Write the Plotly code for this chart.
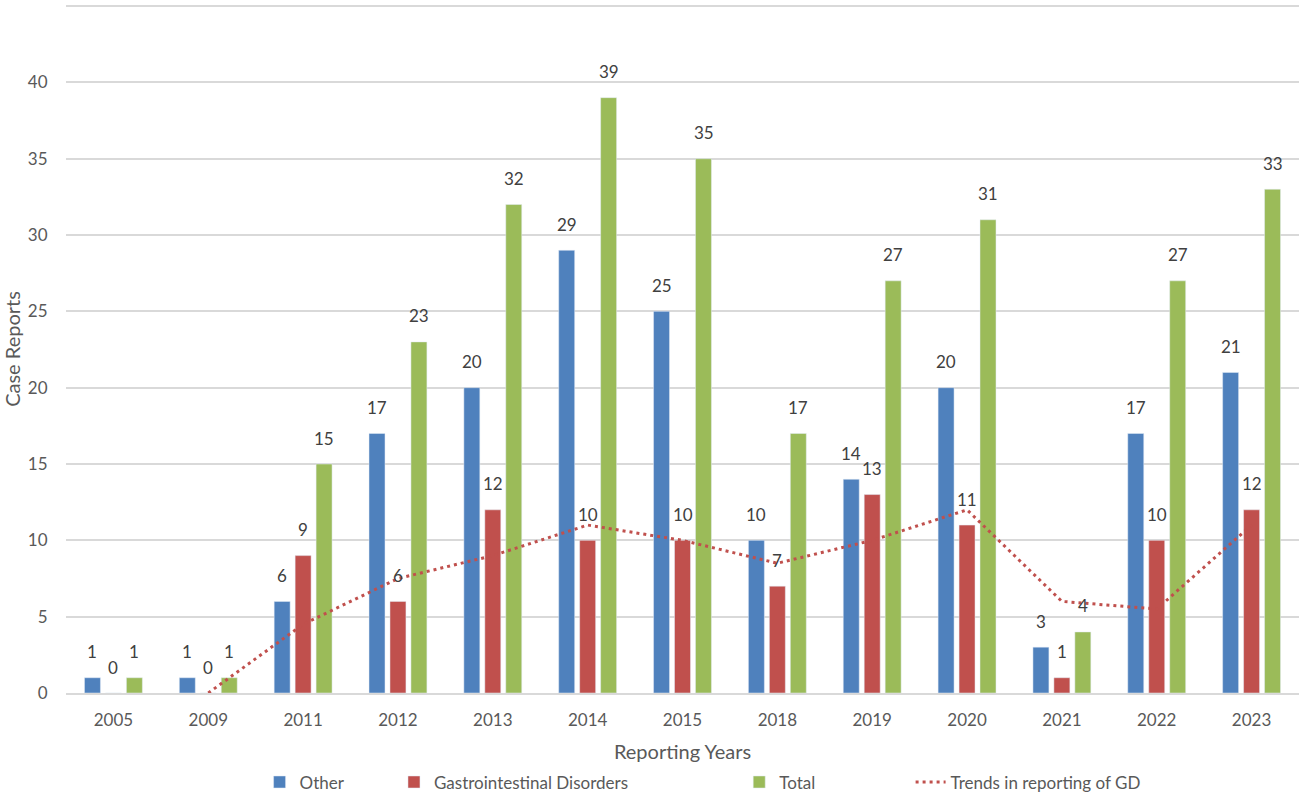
import plotly.graph_objects as go

years = ['2005', '2009', '2011', '2012', '2013', '2014', '2015',
         '2018', '2019', '2020', '2021', '2022', '2023']
other = [1, 1, 6, 17, 20, 29, 25, 10, 14, 20, 3, 17, 21]
gd = [0, 0, 9, 6, 12, 10, 10, 7, 13, 11, 1, 10, 12]
total = [1, 1, 15, 23, 32, 39, 35, 17, 27, 31, 4, 27, 33]
# moving average trend line (starts at 2009)
trend = [None, 0, 4.5, 7.5, 9, 11, 10, 8.5, 10, 12, 6, 5.5, 11]

txt = '#595959'
font = 'Lato, Liberation Sans, sans-serif'

fig = go.Figure()
fig.add_trace(go.Bar(x=years, y=other, name='Other', marker_color='#4F81BD', legend='legend'))
fig.add_trace(go.Bar(x=years, y=gd, name='Gastrointestinal Disorders', marker_color='#C0504D',
                     legend='legend2'))
fig.add_trace(go.Bar(x=years, y=total, name='Total', marker_color='#9BBB59', legend='legend3'))
fig.add_trace(go.Scatter(x=years, y=trend, name='Trends in reporting of GD', mode='lines',
                         line=dict(color='#C0504D', width=3, dash='3px,4px'), legend='legend4'))

# data labels above each bar (category index used for x, years look numeric)
for vals, shift in [(other, -21), (gd, 0), (total, 21)]:
    for i, v in enumerate(vals):
        fig.add_annotation(x=i, y=v, text=str(v), showarrow=False, xshift=shift, yshift=26,
                           font=dict(size=17, color='#404040', family=font))

leg = dict(orientation='h', xanchor='left', y=-0.13, yanchor='middle',
           font=dict(size=17, color=txt), bgcolor='rgba(0,0,0,0)')

fig.update_layout(
    width=1299, height=793,
    margin=dict(l=66, r=0, t=5, b=100, autoexpand=False),
    plot_bgcolor='white', paper_bgcolor='white',
    font=dict(family=font, size=17, color=txt),
    barmode='group', bargap=0.337, bargroupgap=0.238,
    showlegend=True,
    legend=dict(leg, x=0.157),
    legend2=dict(leg, x=0.266),
    legend3=dict(leg, x=0.546),
    legend4=dict(leg, x=0.685),
)
fig.update_xaxes(type='category', categoryorder='array', categoryarray=years,
                 range=[-0.5, 12.5], automargin=False,
                 title=dict(text='Reporting Years', standoff=16, font=dict(size=20)),
                 showline=True, linecolor='#D9D9D9', linewidth=1.5,
                 ticks='outside', ticklen=11, tickcolor='rgba(0,0,0,0)')
fig.update_yaxes(title=dict(text='Case Reports', standoff=8, font=dict(size=20)),
                 range=[0, 45.07], tickvals=list(range(0, 50, 5)), gridcolor='#D9D9D9', gridwidth=1.5,
                 zeroline=False, automargin=False,
                 ticks='outside', ticklen=14, tickcolor='rgba(0,0,0,0)')

# drop the default page margin so the figure sits at the window's corner
fig.write_html('out.html', config={'displayModeBar': False},
               post_script="document.body.style.margin='0';")
